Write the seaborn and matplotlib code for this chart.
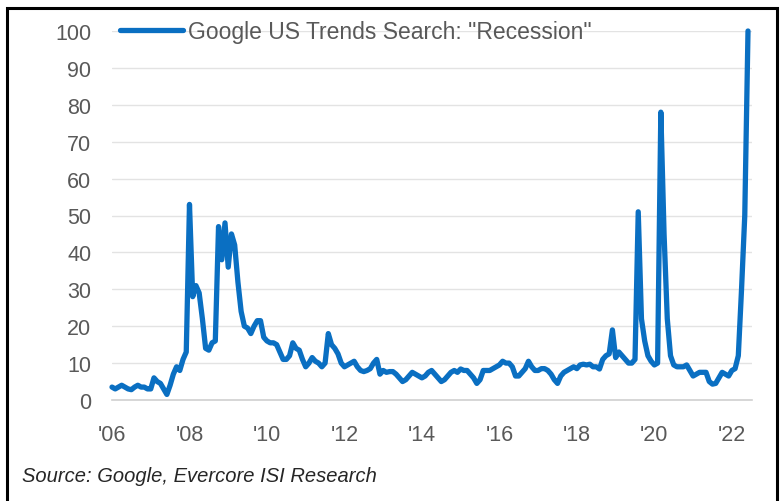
import matplotlib
matplotlib.use("Agg")
import matplotlib.pyplot as plt
import numpy as np
import pandas as pd
import seaborn as sns
from matplotlib.patches import Rectangle

# Monthly Google Trends index, Jan 2006 .. Jun 2022
v2006 = [3.5, 3, 3.5, 4, 3.5, 3, 2.8, 3.5, 4, 3.5, 3.5, 3]
v2007 = [3, 6, 5, 4.5, 3, 1.5, 4, 7, 9, 8, 11, 13]
v2008 = [53, 28, 31, 29, 22, 14, 13.5, 15.5, 16, 47, 38, 48]
v2009 = [36, 45, 42, 32, 24, 20, 19.5, 18, 20, 21.5, 21.5, 17]
v2010 = [16, 15.5, 15.5, 15, 13, 11, 11, 12, 15.5, 14, 13.5, 11]
v2011 = [9, 10, 11.5, 10.5, 10, 9, 10, 18, 15, 14, 12.5, 10]
v2012 = [9, 9.5, 10, 10.5, 9, 8, 7.7, 8, 8.5, 10, 11, 7]
v2013 = [8, 7.5, 7.7, 7.7, 7, 6, 5, 5.5, 6.5, 7.5, 7, 6.5]
v2014 = [6, 6.5, 7.5, 8, 7, 6, 5, 5.5, 6.5, 7.5, 8, 7.5]
v2015 = [8.4, 8, 8, 7, 6, 4.5, 5.5, 8, 8, 8, 8.5, 9]
v2016 = [9.5, 10.5, 10, 10, 9, 6.5, 6.5, 7.5, 8.5, 10.5, 9, 8]
v2017 = [8, 8.5, 8.5, 8, 7, 5.5, 4.5, 6.5, 7.5, 8, 8.5, 9]
v2018 = [8.5, 9.5, 9.7, 9.5, 9.7, 9, 9, 8.4, 11, 12, 12.5, 19]
v2019 = [11.5, 13, 12, 11, 10, 10, 11, 51, 22, 16, 12, 10.5]
v2020 = [9.5, 10, 78, 45, 22, 12, 9.5, 9, 9, 9, 9.5, 8]
v2021 = [6.5, 7, 7.5, 7.5, 7.5, 5, 4.3, 4.5, 6, 7.5, 7, 6.5]
v2022 = [8, 8.5, 12, 30, 50, 100]

values = (v2006 + v2007 + v2008 + v2009 + v2010 + v2011 + v2012 + v2013 +
          v2014 + v2015 + v2016 + v2017 + v2018 + v2019 + v2020 + v2021 + v2022)
start_year = 2006
series_name = 'Google US Trends Search: "Recession"'
tick_years = [2006, 2008, 2010, 2012, 2014, 2016, 2018, 2020, 2022]
tick_labels = ["'06", "'08", "'10", "'12", "'14", "'16", "'18", "'20", "'22"]
y_ticks = [0, 10, 20, 30, 40, 50, 60, 70, 80, 90, 100]
source_text = "Source: Google, Evercore ISI Research"

df = pd.DataFrame({
    "t": start_year + np.arange(len(values)) / 12.0,
    "value": values,
    "series": series_name,
})

sns.set_style("white")
plt.rcParams["font.family"] = ["Liberation Sans", "DejaVu Sans"]

W, H = 782, 502
fig = plt.figure(figsize=(W / 100, H / 100), dpi=100)
ax = fig.add_axes([112 / W, 1 - 401 / H, (752 - 112) / W, (401 - 32) / H])

blue = "#0A6FC2"
gray_txt = "#595959"
grid_c = "#E3E3E3"
lw = 3.8

sns.lineplot(data=df, x="t", y="value", hue="series", palette=[blue],
             linewidth=lw, ax=ax, legend=True)
for ln in ax.lines:
    ln.set_clip_on(False)
    ln.set_solid_joinstyle("round")

ax.set_xlim(2006, 2022.52)
ax.set_ylim(0, 100)
ax.set_yticks(y_ticks)
ax.set_yticklabels([str(v) for v in y_ticks])
ax.set_xticks(tick_years)
ax.set_xticklabels(tick_labels)
ax.set_xlabel("")
ax.set_ylabel("")

for yv in y_ticks[1:]:
    ax.axhline(yv, color=grid_c, linewidth=1.0, zorder=0)

for s in ["top", "right", "left"]:
    ax.spines[s].set_visible(False)
ax.spines["bottom"].set_color("#D0D0D0")
ax.spines["bottom"].set_linewidth(1.2)

ax.tick_params(axis="y", length=0, pad=15, labelsize=15.5, labelcolor=gray_txt)
ax.tick_params(axis="x", direction="out", length=6, width=1, color="#D0D0D0",
               pad=11, labelsize=15.5, labelcolor=gray_txt)

leg = ax.legend(loc="center left", bbox_to_anchor=(120 / W, 1 - 33 / H),
                bbox_transform=fig.transFigure, frameon=False,
                fontsize=16.5, handlelength=2.75, handletextpad=0.2,
                borderpad=0, borderaxespad=0)
for t in leg.get_texts():
    t.set_color(gray_txt)
for h in leg.get_lines():
    h.set_linewidth(lw)

fig.text(22 / W, 1 - 477 / H, source_text, fontsize=14.5, style="italic",
         color="#262626", va="center", ha="left")

fig.patches.append(Rectangle((7 / W, -0.02), (777 - 7) / W, (1 - 9 / H) + 0.02,
                             transform=fig.transFigure, fill=False,
                             edgecolor="black", linewidth=2.2, zorder=10))

fig.savefig("out.png", dpi=100)
